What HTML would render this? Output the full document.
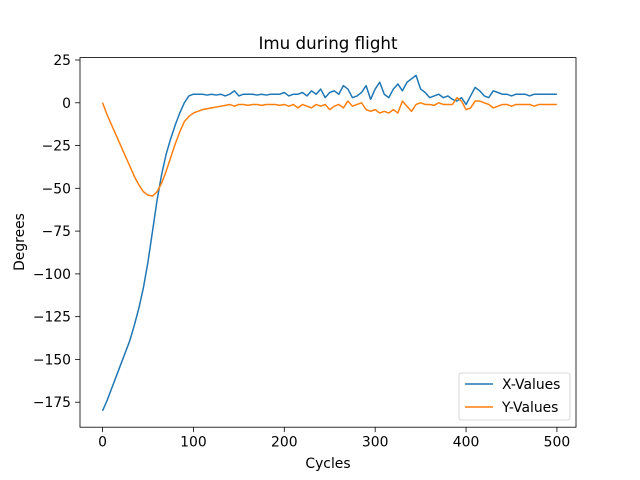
<!DOCTYPE html>
<html><head><meta charset="utf-8"><style>
html,body{margin:0;padding:0;background:#fff;}
svg{display:block;font-family:"DejaVu Sans","Liberation Sans",sans-serif;}
</style></head><body>
<svg id="chart" width="640" height="480"></svg>
<script>
const xTicks=[0,100,200,300,400,500];
const yTicks=[25,0,-25,-50,-75,-100,-125,-150,-175];
const xValues=[-180,-174,-167,-160,-153,-146,-139,-130,-120,-108,-93,-75,-57,-42,-30,-21,-13,-6,0,4,5,
5,5,4.5,5,4.5,5,4,5,7,4,5,5,5,4.5,5,4.5,5,5,5,6,
4,5,5,6,4,7,5,8,3,6,7,5,10,8,3,4,6,10,2,8,
12,5,3,8,11,7,12,14,16,8,6,3,4,5,3,4,2,1,3,-1,
4,9,7,4,3,7,6,5,5,4,5,5,5,4,5,5,5,5,5,5];
const yValues=[0,-7,-13,-19,-25,-31,-37,-43,-48,-52,-54,-54.5,-52,-47,-40,-32,-24,-17,-11,-8,-6,
-5,-4,-3.5,-3,-2.5,-2,-1.5,-1,-2,-1,-1,-1.5,-1,-1,-1.5,-1,-1,-1,-1.5,-1,
-2,-1,-3,-1,-2,-3,-1,-2,-1,-4,-2,-1,-3,1,-2,-1,0,-4,-5,-4,
-6,-5,-6,-4,-6,1,-2,-5,-1,0,-1,-1,-1.5,0,-1,-1,-1,3,1,-4,
-3,1,1,0,-1,-3,-2,-1,-1,-2,-1,-1,-1,-1,-2,-1,-1,-1,-1,-1];
const cycleStep=5;
const L=80,R=576,T=57.6,B=427.2;
const xMin=-24.8,xMax=521,yMin=-189.6,yMax=26.4;
const sx=v=>L+(v-xMin)/(xMax-xMin)*(R-L);
const sy=v=>B-(v-yMin)/(yMax-yMin)*(B-T);
const svg=document.getElementById('chart');
const NS='http://www.w3.org/2000/svg';
function mk(tag,attrs,parent){const e=document.createElementNS(NS,tag);for(const k in attrs)e.setAttribute(k,attrs[k]);(parent||svg).appendChild(e);return e;}
function series(vals,color,name){
  const pts=vals.map((v,i)=>sx(i*cycleStep).toFixed(2)+','+sy(v).toFixed(2)).join(' ');
  const p=mk('polyline',{points:pts,fill:'none',stroke:color,'stroke-width':1.5,'stroke-linejoin':'round'});
  
  
}
series(xValues,'#1f77b4','x-values-line');
series(yValues,'#ff7f0e','y-values-line');
const frame=mk('rect',{x:L,y:T,width:R-L,height:B-T,fill:'none',stroke:'#000','stroke-width':0.8});


xTicks.forEach(t=>{
  const x=sx(t);
  mk('line',{x1:x,x2:x,y1:B,y2:B+4.9,stroke:'#000','stroke-width':0.8});
  const tx=mk('text',{x:x,y:B+19.5,'text-anchor':'middle','font-size':13.9});
  tx.textContent=t;
  
  
});
yTicks.forEach(t=>{
  const y=sy(t);
  mk('line',{x1:L-4.9,x2:L,y1:y,y2:y,stroke:'#000','stroke-width':0.8});
  const tx=mk('text',{x:L-9,y:y+5,'text-anchor':'end','font-size':13.9});
  tx.textContent=t<0?'\u2212'+(-t):t;
  
  
});
</script>
<script>
(function(){
const svg=document.getElementById('chart');const NS='http://www.w3.org/2000/svg';
function mk(tag,attrs,parent){const e=document.createElementNS(NS,tag);for(const k in attrs)e.setAttribute(k,attrs[k]);(parent||svg).appendChild(e);return e;}
const title=mk('text',{x:328,y:49,'text-anchor':'middle','font-size':16.7});title.textContent='Imu during flight';


const xl=mk('text',{x:328,y:468,'text-anchor':'middle','font-size':13.9});xl.textContent='Cycles';


const yl=mk('text',{x:24,y:242,'text-anchor':'middle','font-size':13.9,transform:'rotate(-90 24 242)'});yl.textContent='Degrees';


const g=mk('g',{});


mk('rect',{x:459,y:373,width:111,height:47,rx:2,fill:'#fff','fill-opacity':0.8,stroke:'#ccc','stroke-width':0.8},g);
[['X-Values','#1f77b4',384],['Y-Values','#ff7f0e',407]].forEach(([n,c,y])=>{
  const e=mk('g',{},g);
  
  
  mk('line',{x1:465,x2:493,y1:y,y2:y,stroke:c,'stroke-width':1.5},e);
  const t=mk('text',{x:502,y:y+5,'font-size':13.9},e);t.textContent=n;
});
})();
</script>
</body></html>
